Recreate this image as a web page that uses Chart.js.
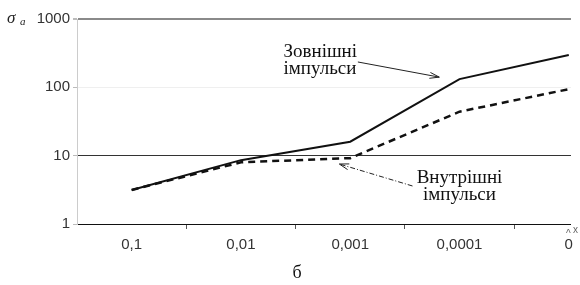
<!DOCTYPE html>
<html>
<head>
<meta charset="utf-8">
<script src="https://cdn.jsdelivr.net/npm/chart.js@4/dist/chart.umd.min.js"></script>
<style>
  html, body { margin: 0; padding: 0; background: #fff; }
  #wrap { width: 580px; height: 285px; }
</style>
</head>
<body>
<div id="wrap"><canvas id="sigmaChart"></canvas></div>
<script>
    // categories on x (index positions 0..4)
    const xLabels = ['0,1', '0,01', '0,001', '0,0001', '0'];
    const yTicks = [1, 10, 100, 1000];

    // values (log scale)
    const outerPulses = [3.15, 8.6, 16, 132, 297];
    const innerPulses = [3.15, 8.0, 9.2, 44, 94];

    const outerText = ['Зовнішні', 'імпульси'];
    const innerText = ['Внутрішні', 'імпульси'];

    function toPoints(values) {
        return values.map((v, i) => ({ x: i, y: v }));
    }

    const annotations = {
        id: 'annotations',
        afterDatasetsDraw(chart) {
            const ctx = chart.ctx;
            const xs = chart.scales.x;
            const ys = chart.scales.y;
            const px = v => xs.getPixelForValue(v);
            const py = v => ys.getPixelForValue(v);

            ctx.save();
            ctx.fillStyle = '#111';
            ctx.strokeStyle = '#222';

            // labels near the curves (anchored in data units)
            ctx.font = '19px "Liberation Serif", "DejaVu Serif", serif';
            ctx.textAlign = 'left';
            ctx.textBaseline = 'alphabetic';
            ctx.fillText(outerText[0], px(1.39), py(278));
            ctx.fillText(outerText[1], px(1.39), py(155));

            ctx.textAlign = 'center';
            ctx.fillText(innerText[0], px(3.0), py(3.98));
            ctx.fillText(innerText[1], px(3.0), py(2.25));

            drawArrow(ctx, px(2.07), py(235), px(2.815), py(141), []);
            drawArrow(ctx, px(2.57), py(3.6), px(1.90), py(7.55), [5, 2, 1, 2]);

            // sigma label by the top tick
            const yTop = py(1000);
            ctx.textAlign = 'left';
            ctx.textBaseline = 'middle';
            ctx.font = 'italic 17px "Liberation Serif", serif';
            ctx.fillStyle = '#222';
            ctx.fillText('σ', 7, yTop);
            ctx.font = 'italic 11px "Liberation Serif", serif';
            ctx.fillText('a', 20, yTop + 3);

            // x end mark
            ctx.font = '10px "Liberation Sans", sans-serif';
            ctx.fillStyle = '#666';
            ctx.fillText('^', 566, chart.chartArea.bottom + 10);
            ctx.fillText('x', 573, chart.chartArea.bottom + 6);

            // panel letters
            ctx.fillStyle = '#111';
            ctx.textAlign = 'center';
            ctx.textBaseline = 'alphabetic';
            ctx.font = '18px "Liberation Serif", serif';
            ctx.fillText('б', 297, 278);
            ctx.fillText('а', 298, 0);
            ctx.restore();
        }
    };

    function drawArrow(ctx, x0, y0, x1, y1, dash) {
        ctx.save();
        ctx.lineWidth = 1;
        ctx.setLineDash(dash);
        ctx.beginPath();
        ctx.moveTo(x0, y0);
        ctx.lineTo(x1, y1);
        ctx.stroke();
        ctx.setLineDash([]);
        const a = Math.atan2(y1 - y0, x1 - x0);
        const len = 10, spread = 0.3;
        ctx.beginPath();
        ctx.moveTo(x1 - len * Math.cos(a - spread), y1 - len * Math.sin(a - spread));
        ctx.lineTo(x1, y1);
        ctx.lineTo(x1 - len * Math.cos(a + spread), y1 - len * Math.sin(a + spread));
        ctx.stroke();
        ctx.restore();
    }

    const ctx = document.getElementById('sigmaChart').getContext('2d');
    new Chart(ctx, {
        type: 'line',
        data: {
            datasets: [{
                label: 'Зовнішні імпульси',
                data: toPoints(outerPulses),
                borderColor: '#111',
                borderWidth: 2,
                pointRadius: 0,
                tension: 0
            }, {
                label: 'Внутрішні імпульси',
                data: toPoints(innerPulses),
                borderColor: '#111',
                borderWidth: 2.5,
                borderDash: [7, 5],
                pointRadius: 0,
                tension: 0
            }]
        },
        options: {
            responsive: true,
            maintainAspectRatio: false,
            animation: false,
            layout: { padding: { top: 19, right: 8, left: 0, bottom: 0 } },
            plugins: {
                legend: { display: false },
                tooltip: { enabled: false }
            },
            scales: {
                x: {
                    type: 'linear',
                    min: -0.5,
                    max: 4.02,
                    afterBuildTicks: scale => {
                        const t = [];
                        for (let v = 0; v <= 4; v += 0.5) t.push({ value: v });
                        scale.ticks = t;
                    },
                    afterFit: scale => { scale.height = 61; },
                    border: { color: '#111', width: 1 },
                    grid: {
                        drawOnChartArea: false,
                        tickLength: 5,
                        tickColor: c => (c.tick && c.tick.value % 1 !== 0) ? '#555' : 'rgba(0,0,0,0)'
                    },
                    ticks: {
                        autoSkip: false,
                        maxRotation: 0,
                        padding: 7,
                        color: '#333',
                        font: { family: '"Liberation Sans", Arial, sans-serif', size: 15 },
                        callback: v => Number.isInteger(v) ? xLabels[v] : ''
                    }
                },
                y: {
                    type: 'logarithmic',
                    min: 1,
                    max: 1000,
                    afterBuildTicks: scale => {
                        scale.ticks = yTicks.map(v => ({ value: v, major: true }));
                    },
                    afterFit: scale => { scale.width = 77; },
                    border: { color: '#ccc', width: 1 },
                    grid: {
                        color: c => {
                            const v = c.tick ? c.tick.value : 0;
                            if (v === 1000) return '#8a8a8a';
                            if (v === 100) return '#efefef';
                            if (v === 10) return '#333';
                            return 'rgba(0,0,0,0)';
                        },
                        lineWidth: c => (c.tick && c.tick.value === 1000) ? 2 : 1,
                        tickColor: '#bbb',
                        tickLength: 4
                    },
                    ticks: {
                        padding: 3,
                        color: '#333',
                        font: { family: '"Liberation Sans", Arial, sans-serif', size: 15 },
                        callback: v => yTicks.includes(v) ? String(v) : ''
                    }
                }
            }
        },
        plugins: [annotations]
    });
</script>
</body>
</html>
